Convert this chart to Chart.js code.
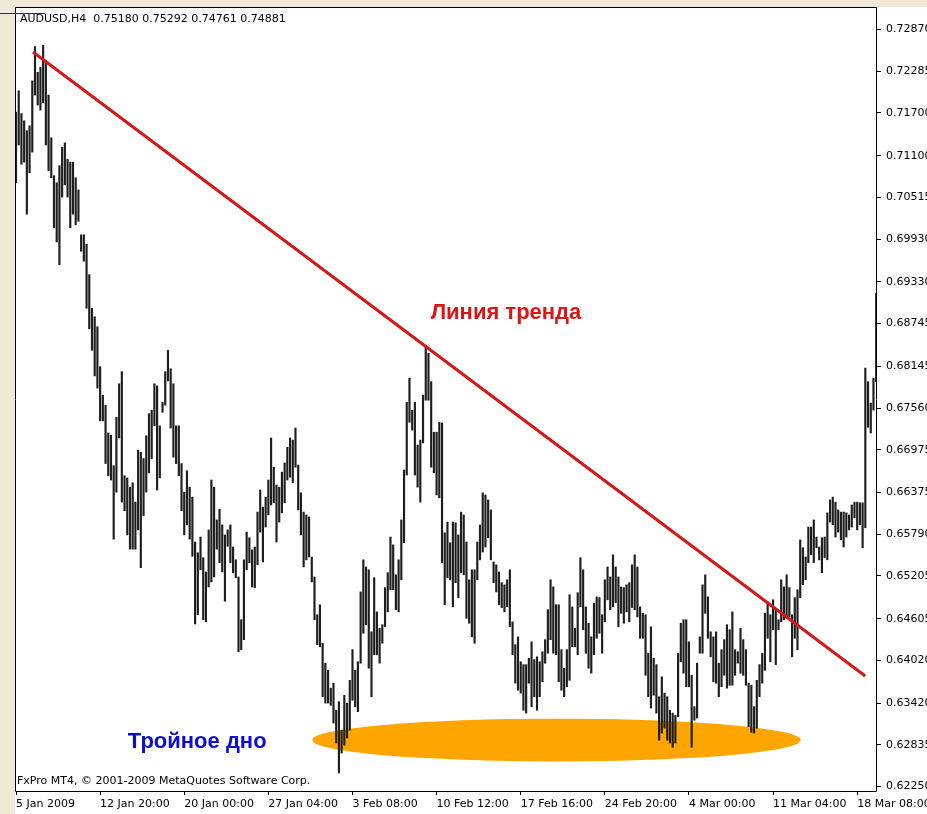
<!DOCTYPE html>
<html>
<head>
<meta charset="utf-8">
<title>AUDUSD,H4</title>
<script src="https://cdn.jsdelivr.net/npm/chart.js@4.4.0/dist/chart.umd.min.js"></script>
<style>
  html, body { margin: 0; padding: 0; background: #fff; }
  canvas { display: block; }
</style>
</head>
<body>
<canvas id="chart" width="927" height="814"></canvas>
<script>
// AUDUSD H4 bars, oldest first (high / low of each bar)
const highs = [
  0.7171, 0.7201, 0.7169, 0.7159, 0.7145, 0.7152, 0.7215, 0.7263, 0.7227, 0.7234,
  0.7265, 0.7244, 0.7195, 0.7135, 0.7082, 0.7072, 0.7096, 0.7122, 0.7128, 0.7105,
  0.7101, 0.7101, 0.7079, 0.7062, 0.6999, 0.6999, 0.6986, 0.6943, 0.6896, 0.6884,
  0.6870, 0.6814, 0.6774, 0.6760, 0.6721, 0.6718, 0.6675, 0.6743, 0.6790, 0.6807,
  0.6661, 0.6658, 0.6645, 0.6651, 0.6624, 0.6697, 0.6694, 0.6685, 0.6717, 0.6748,
  0.6753, 0.6790, 0.6787, 0.6731, 0.6764, 0.6807, 0.6837, 0.6811, 0.6790, 0.6731,
  0.6731, 0.6678, 0.6638, 0.6668, 0.6645, 0.6631, 0.6568, 0.6553, 0.6575, 0.6546,
  0.6526, 0.6585, 0.6655, 0.6645, 0.6599, 0.6614, 0.6592, 0.6578, 0.6585,

  0.6592, 0.6561, 0.6543, 0.6519, 0.6459, 0.6543, 0.6582, 0.6574, 0.6557, 0.6561,
  0.6610, 0.6641, 0.6617, 0.6631, 0.6655, 0.6714, 0.6673, 0.6648, 0.6645, 0.6666,
  0.6679, 0.6701, 0.6714, 0.6711, 0.6728, 0.6676, 0.6637, 0.6610, 0.6606, 0.6603,
  0.6547, 0.6519, 0.6466, 0.6480, 0.6426, 0.6398, 0.6388, 0.6363, 0.6370, 0.6332,
  0.6344, 0.6304, 0.6353, 0.6342, 0.6374, 0.6417, 0.6388, 0.6400, 0.6498, 0.6543,
  0.6533, 0.6529, 0.6442, 0.6518, 0.6470, 0.6447, 0.6452, 0.6504, 0.6525, 0.6575,
  0.6564, 0.6522, 0.6543, 0.6599, 0.6669, 0.6764, 0.6798, 0.6753, 0.6764, 0.6704,
  0.6711, 0.6774, 0.6844, 0.6833, 0.6793, 0.6722, 0.6722, 0.6736, 0.6735, 0.6581,
  0.6596,

  0.6567, 0.6596, 0.6595, 0.6578, 0.6610, 0.6606, 0.6568, 0.6515, 0.6529, 0.6529,
  0.6568, 0.6592, 0.6637, 0.6634, 0.6627, 0.6613, 0.6540, 0.6536, 0.6526, 0.6511,
  0.6508, 0.6515, 0.6529, 0.6456, 0.6424, 0.6435, 0.6400, 0.6396, 0.6396, 0.6405,
  0.6428, 0.6403, 0.6407, 0.6400, 0.6414, 0.6431, 0.6473, 0.6515, 0.6505, 0.6480,
  0.6480, 0.6417, 0.6391, 0.6417, 0.6494, 0.6477, 0.6447, 0.6497, 0.6546, 0.6529,
  0.6477, 0.6454, 0.6435, 0.6482, 0.6491, 0.6490, 0.6466, 0.6515, 0.6533, 0.6519,
  0.6550, 0.6533, 0.6519, 0.6505, 0.6504, 0.6508, 0.6511, 0.6536, 0.6550, 0.6533,
  0.6477, 0.6468, 0.6466, 0.6412, 0.6449, 0.6405, 0.6396, 0.6351, 0.6379, 0.6356,
  0.6351, 0.6332, 0.6328,

  0.6325, 0.6412, 0.6454, 0.6459, 0.6459, 0.6428, 0.6381, 0.6337, 0.6398, 0.6435,
  0.6508, 0.6522, 0.6491, 0.6442, 0.6435, 0.6442, 0.6398, 0.6417, 0.6431, 0.6452,
  0.6445, 0.6470, 0.6417, 0.6414, 0.6447, 0.6431, 0.6417, 0.6370, 0.6367, 0.6337,
  0.6374, 0.6396, 0.6412, 0.6468, 0.6484, 0.6466, 0.6487, 0.6473, 0.6459, 0.6515,
  0.6505, 0.6522, 0.6504, 0.6466, 0.6490, 0.6501, 0.6571, 0.6560, 0.6547, 0.6589,
  0.6589, 0.6599, 0.6575, 0.6561, 0.6574, 0.6575, 0.6609, 0.6627, 0.6631, 0.6624,
  0.6613, 0.6610, 0.6610, 0.6609, 0.6606, 0.6620, 0.6624, 0.6624, 0.6623, 0.6623,
  0.6812, 0.6793, 0.6763, 0.6798, 0.6917
];

const lows = [
  0.7072, 0.7125, 0.7098, 0.7101, 0.7028, 0.7086, 0.7115, 0.7195, 0.7181, 0.7174,
  0.7184, 0.7125, 0.7089, 0.7079, 0.7009, 0.6989, 0.6957, 0.7052, 0.7069, 0.7052,
  0.7009, 0.7028, 0.7013, 0.7018, 0.6976, 0.6962, 0.6896, 0.6867, 0.6837, 0.6801,
  0.6784, 0.6738, 0.6738, 0.6678, 0.6661, 0.6655, 0.6572, 0.6638, 0.6714, 0.6624,
  0.6612, 0.6578, 0.6558, 0.6558, 0.6558, 0.6585, 0.6532, 0.6605, 0.6638, 0.6665,
  0.6685, 0.6731, 0.6641, 0.6658, 0.6750, 0.6760, 0.6794, 0.6728, 0.6687, 0.6678,
  0.6661, 0.6612, 0.6578, 0.6592, 0.6572, 0.6548, 0.6453, 0.6466, 0.6529, 0.6459,
  0.6456, 0.6505, 0.6512, 0.6519, 0.6558, 0.6539, 0.6526, 0.6485, 0.6562,

  0.6539, 0.6525, 0.6518, 0.6414, 0.6417, 0.6431, 0.6529, 0.6539, 0.6505, 0.6504,
  0.6536, 0.6582, 0.6540, 0.6589, 0.6606, 0.6620, 0.6623, 0.6568, 0.6596, 0.6609,
  0.6623, 0.6655, 0.6659, 0.6651, 0.6673, 0.6613, 0.6578, 0.6533, 0.6543, 0.6547,
  0.6512, 0.6459, 0.6424, 0.6421, 0.6351, 0.6342, 0.6342, 0.6339, 0.6314, 0.6286,
  0.6244, 0.6272, 0.6283, 0.6293, 0.6304, 0.6346, 0.6337, 0.6330, 0.6398, 0.6440,
  0.6452, 0.6391, 0.6351, 0.6410, 0.6410, 0.6398, 0.6426, 0.6449, 0.6470, 0.6501,
  0.6501, 0.6473, 0.6470, 0.6515, 0.6567, 0.6662, 0.6736, 0.6725, 0.6662, 0.6645,
  0.6624, 0.6707, 0.6767, 0.6767, 0.6673, 0.6665, 0.6634, 0.6630, 0.6539, 0.6480,
  0.6518,

  0.6515, 0.6477, 0.6511, 0.6490, 0.6525, 0.6522, 0.6461, 0.6454, 0.6435, 0.6426,
  0.6515, 0.6543, 0.6554, 0.6561, 0.6574, 0.6543, 0.6511, 0.6498, 0.6480, 0.6476,
  0.6470, 0.6477, 0.6449, 0.6410, 0.6370, 0.6360, 0.6356, 0.6332, 0.6328, 0.6370,
  0.6337, 0.6351, 0.6332, 0.6351, 0.6372, 0.6398, 0.6412, 0.6431, 0.6412, 0.6410,
  0.6372, 0.6360, 0.6351, 0.6365, 0.6374, 0.6421, 0.6421, 0.6410, 0.6477, 0.6445,
  0.6412, 0.6391, 0.6384, 0.6410, 0.6433, 0.6440, 0.6412, 0.6456, 0.6487, 0.6473,
  0.6477, 0.6483, 0.6449, 0.6468, 0.6454, 0.6470, 0.6456, 0.6476, 0.6473, 0.6463,
  0.6433, 0.6433, 0.6381, 0.6351, 0.6335, 0.6353, 0.6328, 0.6290, 0.6300, 0.6307,
  0.6290, 0.6286, 0.6280,

  0.6286, 0.6323, 0.6400, 0.6384, 0.6365, 0.6365, 0.6280, 0.6318, 0.6321, 0.6412,
  0.6412, 0.6468, 0.6433, 0.6407, 0.6372, 0.6370, 0.6351, 0.6365, 0.6381, 0.6363,
  0.6367, 0.6367, 0.6381, 0.6398, 0.6384, 0.6381, 0.6367, 0.6309, 0.6301, 0.6300,
  0.6307, 0.6351, 0.6370, 0.6388, 0.6433, 0.6400, 0.6445, 0.6396, 0.6445, 0.6456,
  0.6459, 0.6461, 0.6463, 0.6407, 0.6433, 0.6417, 0.6490, 0.6508, 0.6515, 0.6539,
  0.6550, 0.6539, 0.6560, 0.6543, 0.6525, 0.6546, 0.6543, 0.6596, 0.6592, 0.6575,
  0.6582, 0.6571, 0.6561, 0.6575, 0.6585, 0.6589, 0.6602, 0.6585, 0.6592, 0.6560,
  0.6588, 0.6729, 0.6721, 0.6753, 0.6793
];

// time scale: one label every 31 H4 bars
const timeLabels = [
  '5 Jan 2009', '12 Jan 20:00', '20 Jan 00:00', '27 Jan 04:00', '3 Feb 08:00',
  '10 Feb 12:00', '17 Feb 16:00', '24 Feb 20:00', '4 Mar 00:00', '11 Mar 04:00', '18 Mar 08:00'
];
const barsPerLabel = 31;

const priceTicks = [
  0.62250, 0.62835, 0.63420, 0.64020, 0.64605, 0.65205, 0.65790, 0.66375, 0.66975, 0.67560,
  0.68145, 0.68745, 0.69330, 0.69930, 0.70515, 0.71100, 0.71700, 0.72285, 0.72870
];
const priceMin = 0.62187;
const priceMax = 0.73186;
const barMin = -0.37;
const barMax = 317.3;

// objects placed on the chart (bar index / price)
const trendLine = [{ x: 6.26, y: 0.72555 }, { x: 312.96, y: 0.63800 }];
const bottomZone = { x: 199.2, y: 0.62902, halfBars: 90, halfPrice: 0.00300 };
const chartTexts = [
  { text: 'Линия тренда', x: 152.8, y: 0.68809, color: '#dc1414' },
  { text: 'Тройное дно', x: 41.2, y: 0.62790, color: '#0c0cd2' }
];
const headerText = 'AUDUSD,H4  0.75180 0.75292 0.74761 0.74881';
const footerText = 'FxPro MT4, © 2001-2009 MetaQuotes Software Corp.';

const uiFont = '"DejaVu Sans", Tahoma, sans-serif';

const bars = highs.map((h, i) => ({ x: i, y: [lows[i], h] }));

const terminalLook = {
  id: 'terminalLook',
  beforeDraw(chart) {
    const { ctx, width, height, chartArea } = chart;
    ctx.save();
    ctx.fillStyle = '#ffffff';
    ctx.fillRect(0, 0, width, height);
    ctx.fillStyle = '#efe9d6';
    ctx.fillRect(0, 0, width, chartArea.top);
    ctx.fillRect(0, 0, chartArea.left, height);
    ctx.restore();
  },
  beforeDatasetsDraw(chart) {
    const { ctx, scales: { x, y } } = chart;
    const cx = x.getPixelForValue(bottomZone.x);
    const cy = y.getPixelForValue(bottomZone.y);
    const rx = x.getPixelForValue(bottomZone.x + bottomZone.halfBars) - cx;
    const ry = y.getPixelForValue(bottomZone.y - bottomZone.halfPrice) - cy;
    ctx.save();
    ctx.fillStyle = '#ffa500';
    ctx.beginPath();
    ctx.ellipse(cx, cy, rx, ry, 0, 0, Math.PI * 2);
    ctx.fill();
    ctx.restore();
  },
  afterDatasetsDraw(chart) {
    const { ctx, chartArea: a, scales: { x, y } } = chart;
    ctx.save();

    // labels placed on the chart
    ctx.font = 'bold 22px "Liberation Sans", Arial, sans-serif';
    ctx.textBaseline = 'alphabetic';
    ctx.textAlign = 'left';
    chartTexts.forEach((t) => {
      ctx.fillStyle = t.color;
      ctx.fillText(t.text, x.getPixelForValue(t.x), y.getPixelForValue(t.y));
    });

    // symbol line and copyright
    ctx.fillStyle = '#000';
    ctx.font = '11px ' + uiFont;
    ctx.fillText(headerText, a.left + 5, a.top + 14.5);
    ctx.fillText(footerText, a.left + 2, a.bottom - 7);

    // frame
    ctx.strokeStyle = '#000';
    ctx.lineWidth = 1;
    ctx.beginPath();
    ctx.moveTo(a.left + 0.5, a.top + 0.5);
    ctx.lineTo(a.right - 0.5, a.top + 0.5);
    ctx.lineTo(a.right - 0.5, a.bottom + 0.5);
    ctx.lineTo(a.left + 0.5, a.bottom + 0.5);
    ctx.closePath();
    ctx.stroke();

    ctx.strokeStyle = '#333';
    ctx.beginPath();
    ctx.moveTo(0, a.top + 6.5);
    ctx.lineTo(a.left + 30, a.top + 6.5);
    ctx.stroke();
    ctx.restore();
  }
};

new Chart(document.getElementById('chart'), {
  type: 'bar',
  data: {
    datasets: [
      {
        type: 'line',
        data: trendLine,
        borderColor: '#d41818',
        borderWidth: 3,
        pointRadius: 0,
        order: 1
      },
      {
        data: bars,
        backgroundColor: '#1e1e1e',
        borderWidth: 0,
        barThickness: 1.5,
        order: 2
      }
    ]
  },
  options: {
    responsive: false,
    animation: false,
    devicePixelRatio: 1,
    layout: { padding: { left: 15, top: 7, right: 0, bottom: 0 } },
    plugins: { legend: { display: false }, tooltip: { enabled: false } },
    scales: {
      x: {
        type: 'linear',
        min: barMin,
        max: barMax,
        offset: false,
        border: { display: false },
        grid: { display: true, offset: false, drawOnChartArea: false, drawTicks: true, tickLength: 4, color: '#000' },
        afterBuildTicks: (scale) => {
          scale.ticks = timeLabels.map((_, i) => ({ value: i * barsPerLabel }));
        },
        afterFit: (scale) => {
          scale.height = 23;
          scale.paddingLeft = 0;
          scale.paddingRight = 0;
        },
        ticks: {
          autoSkip: false,
          maxRotation: 0,
          align: 'start',
          padding: 3,
          color: '#000',
          font: { family: uiFont, size: 11 },
          callback: (v, i) => timeLabels[i]
        }
      },
      y: {
        type: 'linear',
        position: 'right',
        min: priceMin,
        max: priceMax,
        border: { display: false },
        grid: { display: true, drawOnChartArea: false, drawTicks: true, tickLength: 4, color: '#000' },
        afterBuildTicks: (scale) => {
          scale.ticks = priceTicks.map((v) => ({ value: v }));
        },
        afterFit: (scale) => {
          scale.width = 50;
          scale.paddingTop = 0;
          scale.paddingBottom = 0;
        },
        ticks: {
          autoSkip: false,
          padding: 5,
          color: '#000',
          font: { family: uiFont, size: 11 },
          callback: (v) => v.toFixed(5)
        }
      }
    }
  },
  plugins: [terminalLook]
});
</script>
</body>
</html>
